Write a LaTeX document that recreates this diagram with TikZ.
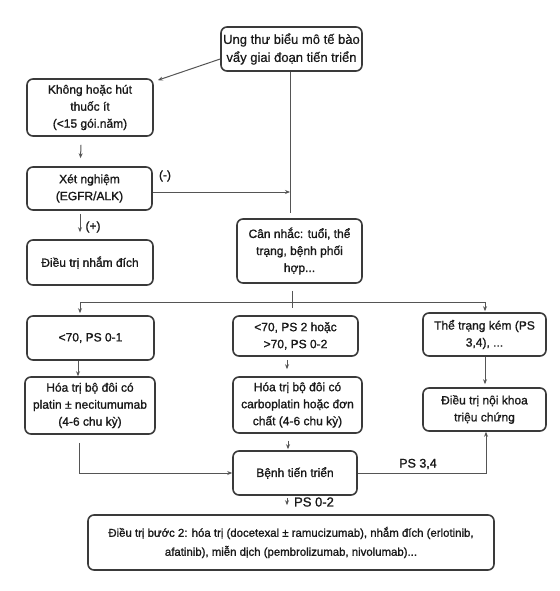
\documentclass[tikz,border=0pt]{standalone}
\usepackage{fontspec}
\setmainfont{Liberation Sans}
\newfontfamily\heavyf[FakeBold=1.2]{Liberation Sans}
\newfontfamily\lightf[FakeBold=0.5]{Liberation Sans}
\usetikzlibrary{arrows.meta,calc}
\definecolor{boxline}{HTML}{3A3A3A}
\definecolor{conn}{HTML}{555555}
\begin{document}
\begin{tikzpicture}[x=1pt,y=-1pt,
  box/.style={draw=boxline,line width=1.6pt,rounded corners=6pt,inner sep=0pt,
    align=center,font=\heavyf\fontsize{12}{17}\selectfont,text=black!90},
  conline/.style={draw=conn,line width=1pt},
  arr/.style={conline,-{Stealth[length=5pt,width=4pt]}},
  lbl/.style={inner sep=0pt,font=\heavyf\fontsize{12}{14}\selectfont,text=black!90}]
\useasboundingbox[fill=white] (0,0) rectangle (559,591);

\node[box,minimum width=141pt,minimum height=44pt,font=\lightf\fontsize{13}{18}\selectfont] (A) at (291.5,49)
  {Ung thư biểu mô tế bào\\vẩy giai đoạn tiến triển};
\node[box,minimum width=126pt,minimum height=57pt] (B) at (90,107.5)
  {Không hoặc hút\\thuốc ít\\(<15 gói.năm)};
\node[box,minimum width=125pt,minimum height=43pt] (C) at (89.5,188.5)
  {Xét nghiệm\\(EGFR/ALK)};
\node[box,minimum width=125pt,minimum height=64pt] (D) at (299.5,251)
  {Cân nhắc: tuổi, thể\\trạng, bệnh phối\\hợp...};
\node[box,minimum width=126pt,minimum height=45pt] (E) at (90,262.5)
  {Điều trị nhắm đích};
\node[box,minimum width=127pt,minimum height=44pt] (G) at (90.5,338)
  {<70, PS 0-1};
\node[box,minimum width=125pt,minimum height=40pt] (F) at (295.5,336)
  {<70, PS 2 hoặc\\>70, PS 0-2};
\node[box,minimum width=123pt,minimum height=43pt] (H) at (484.5,334.5)
  {Thể trạng kém (PS\\3,4), ...};
\node[box,minimum width=130pt,minimum height=57pt] (I) at (90,405.5)
  {Hóa trị bộ đôi có\\platin ± necitumumab\\(4-6 chu kỳ)};
\node[box,minimum width=129pt,minimum height=56pt] (J) at (297.5,405)
  {Hóa trị bộ đôi có\\carboplatin hoặc đơn\\chất (4-6 chu kỳ)};
\node[box,minimum width=123pt,minimum height=43pt] (K) at (484.5,409.5)
  {Điều trị nội khoa\\triệu chứng};
\node[box,minimum width=124pt,minimum height=44pt] (L) at (295,473)
  {Bệnh tiến triển};
\node[box,minimum width=406pt,minimum height=55pt,font=\heavyf\fontsize{11.4}{19}\selectfont] (M) at (291,542.5)
  {Điều trị bước 2: hóa trị (docetexal ± ramucizumab), nhắm đích (erlotinib,\\afatinib), miễn dịch (pembrolizumab, nivolumab)...};

\coordinate (t1) at (290,192);
\coordinate (t2) at (290,213);
\coordinate (hl) at (80,302);
\coordinate (hr) at (485,302);

% connectors
\draw[arr] ([yshift=-10pt]A.west) -- ([xshift=4pt,yshift=-2pt]B.north east);
\draw[conline] ([xshift=-1.5pt]A.south) -- (t2);
\draw[arr] ([xshift=-9pt,yshift=-8pt]B.south) -- ([xshift=-9pt,yshift=8pt]C.north);
\draw[arr] ([yshift=-3.5pt]C.east) -- (t1);
\node[lbl] (minus) at (165,176) {(-)};
\draw[arr] ([xshift=-9.5pt,yshift=-3pt]C.south) -- ([xshift=-10pt,yshift=7pt]E.north);
\node[lbl] (plus) at (93,227) {(+)};
\draw[conline] ([xshift=-7.5pt,yshift=-7pt]D.south) -- ([xshift=-7.5pt,yshift=-24pt]D.south);
\draw[conline,{Stealth[length=5pt,width=4pt]}-{Stealth[length=5pt,width=4pt]}]
  ([xshift=-10.5pt,yshift=2pt]G.north) -- (hl) -- (hr) -- ([xshift=0.5pt,yshift=1pt]H.north);
\draw[arr] ([xshift=-12.5pt]G.south) -- ([xshift=-12pt]I.north);
\draw[arr] ([xshift=-8.5pt,yshift=-3pt]F.south) -- ([xshift=-10.5pt,yshift=7pt]J.north);
\draw[arr] ([xshift=0.5pt]H.south) -- ([xshift=0.5pt,yshift=3pt]K.north);
\draw[arr] ([xshift=-9.5pt,yshift=-7pt]J.south) -- ([xshift=-7pt,yshift=1pt]L.north);
\draw[arr] ([xshift=-11pt,yshift=-8pt]I.south) |- (L.west);
\draw[arr] (L.east) -| ([xshift=1.5pt]K.south);
\node[lbl,font=\heavyf\fontsize{12.5}{14}\selectfont] (ps34) at (418,464) {PS 3,4};
\draw[arr] ([xshift=-8pt,yshift=-2pt]L.south) -- ([xshift=-4pt,yshift=9pt]M.north);
\node[lbl,font=\heavyf\fontsize{13}{15}\selectfont] (ps02) at (314,502) {PS 0-2};
\end{tikzpicture}
\end{document}
